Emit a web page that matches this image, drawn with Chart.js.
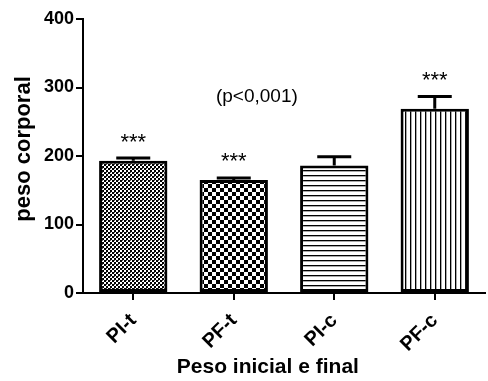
<!DOCTYPE html>
<html>
<head>
<meta charset="utf-8">
<script src="https://cdn.jsdelivr.net/npm/chart.js@4/dist/chart.umd.min.js"></script>
<style>
    html, body { margin: 0; padding: 0; background: #ffffff; }
    #wrap { width: 488px; height: 381px; }
</style>
</head>
<body>
<div id="wrap"><canvas id="pesoChart" width="488" height="381"></canvas></div>
<script>
const categories = ['PI-t', 'PF-t', 'PI-c', 'PF-c'];
const meanValues = [193, 165, 186, 269];
const errorValues = [4, 3, 13, 18];
const starLabels = ['***', '***', '', '***'];
const yTicks = [0, 100, 200, 300, 400];
const pValueText = '(p<0,001)';
const xTitle = 'Peso inicial e final';
const yTitle = 'peso corporal';

const makePattern = (size, paint) => {
    const tile = document.createElement('canvas');
    tile.width = size[0];
    tile.height = size[1];
    const tctx = tile.getContext('2d');
    tctx.fillStyle = '#ffffff';
    tctx.fillRect(0, 0, size[0], size[1]);
    tctx.fillStyle = '#000000';
    paint(tctx);
    return tile.getContext('2d').createPattern(tile, 'repeat');
};

const patterns = [
    // fine checker
    makePattern([4, 4], (c) => {
        c.fillRect(0, 0, 2, 2);
        c.fillRect(2, 2, 2, 2);
        c.fillStyle = '#555';
        c.fillRect(2, 0, 1, 1);
    }),
    // coarse checker
    makePattern([8, 8], (c) => {
        c.fillRect(0, 0, 4, 4);
        c.fillRect(4, 4, 4, 4);
    }),
    // horizontal lines
    makePattern([5, 5], (c) => {
        c.fillRect(0, 0, 5, 1);
        c.fillStyle = '#aaaaaa';
        c.fillRect(0, 1, 5, 1);
    }),
    // vertical lines
    makePattern([5, 5], (c) => {
        c.fillRect(0, 0, 1, 5);
        c.fillStyle = '#aaaaaa';
        c.fillRect(1, 0, 1, 5);
    }),
];

const fontFamily = '"Liberation Sans", Arial, sans-serif';

const errorBarPlugin = {
    id: 'errorBars',
    afterDatasetsDraw(chart) {
        const ctx = chart.ctx;
        const yScale = chart.scales.y;
        const meta = chart.getDatasetMeta(0);
        ctx.save();
        ctx.strokeStyle = '#000000';
        ctx.fillStyle = '#000000';
        ctx.lineWidth = 3;
        meta.data.forEach((bar, i) => {
            const top = yScale.getPixelForValue(meanValues[i]);
            const capY = yScale.getPixelForValue(meanValues[i] + errorValues[i]);
            ctx.beginPath();
            ctx.moveTo(bar.x, top);
            ctx.lineTo(bar.x, capY);
            ctx.moveTo(bar.x - 17, capY);
            ctx.lineTo(bar.x + 17, capY);
            ctx.stroke();

            if (starLabels[i]) {
                // asterisk glyph sits ~0.57em above the baseline
                ctx.font = '22px ' + fontFamily;
                ctx.textAlign = 'center';
                ctx.textBaseline = 'alphabetic';
                ctx.fillText(starLabels[i], bar.x, capY - 22 + 12.5);
            }
        });

        ctx.font = '19px ' + fontFamily;
        ctx.textAlign = 'center';
        ctx.textBaseline = 'middle';
        const px = meta.data[1].x + 0.23 * (meta.data[2].x - meta.data[1].x);
        ctx.fillText(pValueText, px, yScale.getPixelForValue(287));

        // axis titles
        const area = chart.chartArea;
        ctx.font = 'bold 21px ' + fontFamily;
        ctx.fillText(xTitle, px + 11, chart.height - 14);
        ctx.translate(24, (area.top + area.bottom) / 2 - 7);
        ctx.rotate(-Math.PI / 2);
        ctx.font = 'bold 22px ' + fontFamily;
        ctx.fillText(yTitle, 0, 0);
        ctx.restore();
    },
};

const bgPlugin = {
    id: 'whiteBg',
    beforeDraw(chart) {
        const ctx = chart.ctx;
        ctx.save();
        ctx.fillStyle = '#ffffff';
        ctx.fillRect(0, 0, chart.width, chart.height);
        ctx.restore();
    },
};

new Chart(document.getElementById('pesoChart'), {
    type: 'bar',
    data: {
        labels: categories,
        datasets: [
            {
                data: meanValues,
                backgroundColor: patterns,
                borderColor: '#000000',
                borderWidth: 3,
                borderSkipped: false,
                categoryPercentage: 1,
                barPercentage: 0.68,
            },
        ],
    },
    options: {
        responsive: false,
        animation: false,
        layout: {
            padding: { top: 19, right: 3, left: 0, bottom: 0 },
        },
        plugins: {
            legend: { display: false },
            tooltip: { enabled: false },
        },
        scales: {
            x: {
                grid: {
                    display: true,
                    drawOnChartArea: false,
                    offset: false,
                    tickLength: 7,
                    color: '#000000',
                    lineWidth: 2,
                },
                border: { color: '#000000', width: 2 },
                ticks: {
                    color: '#000000',
                    font: { family: fontFamily, weight: 'bold', size: 20 },
                    maxRotation: 45,
                    minRotation: 45,
                    padding: 9,
                },
                afterFit: (scale) => {
                    scale.height = 88;
                },
            },
            y: {
                min: 0,
                max: 400,
                afterBuildTicks: (scale) => {
                    scale.ticks = yTicks.map((v) => ({ value: v }));
                },
                grid: {
                    display: true,
                    drawOnChartArea: false,
                    tickLength: 7,
                    color: '#000000',
                    lineWidth: 2,
                },
                border: { color: '#000000', width: 2 },
                ticks: {
                    color: '#000000',
                    font: { family: fontFamily, weight: 'bold', size: 18 },
                    padding: 2,
                },
                afterFit: (scale) => {
                    scale.width = 83;
                },
            },
        },
    },
    plugins: [bgPlugin, errorBarPlugin],
});
</script>
</body>
</html>
